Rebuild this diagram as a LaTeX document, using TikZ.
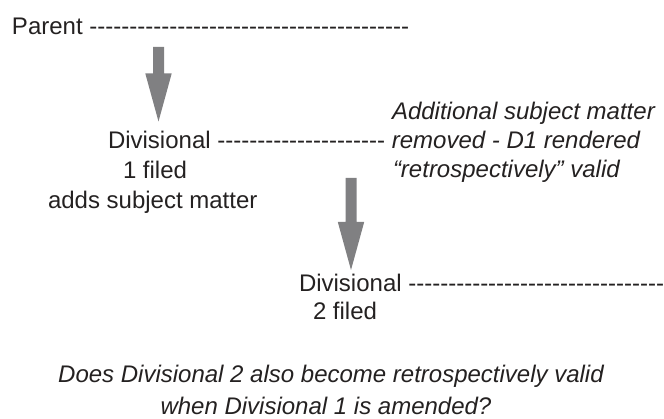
\documentclass[tikz,border=0pt]{standalone}
\usepackage{fontspec}
\setmainfont{Liberation Sans}[Ligatures=TeXOff]
\usetikzlibrary{calc}
\definecolor{ink}{rgb}{0.14,0.13,0.13}
\definecolor{arrowgray}{rgb}{0.50,0.50,0.51}
\tikzset{
  txt/.style={anchor=base west, inner sep=0pt, outer sep=0pt, text=ink, font=\fontsize{24}{29}\selectfont},
  itxt/.style={txt, font=\fontsize{24}{29}\selectfont\itshape},
  ctxt/.style={txt, anchor=base, font=\fontsize{24}{29}\selectfont\itshape},
  blockarrow/.style={fill=arrowgray, draw=none}
}
\newcommand{\blockarr}[2]{%
  \fill[blockarrow] ($(#1)+(-5.5,0)$) -- ($(#1)+(5.5,0)$) --
    ($(#2)+(5.5,-48)$) -- ($(#2)+(13.2,-48)$) -- (#2) --
    ($(#2)+(-13.2,-48)$) -- ($(#2)+(-5.5,-48)$) -- cycle;}
\begin{document}
\begin{tikzpicture}[x=1pt,y=-1pt]
\useasboundingbox (0,0) rectangle (664,419);
% parent
\node[txt] (parent) at (12,35) {Parent ----------------------------------------};
% divisional 1
\node[txt] (div1) at (108,149) {Divisional --------------------- \textit{removed - D1 rendered}};
\node[txt] (div1b) at (123,179) {1 filed};
\node[txt] (div1c) at (48,209) {adds subject matter};
\node[itxt] (rem1) at (392,120) {Additional subject matter};
\node[itxt] (rem3) at (393,178) {“retrospectively” valid};
% divisional 2
\node[txt] (div2) at (299,292) {Divisional --------------------------------};
\node[txt] (div2b) at (313,320) {2 filed};
% question
\node[ctxt] (q1) at (331,383) {Does Divisional 2 also become retrospectively valid};
\node[ctxt] (q2) at (326,414) {when Divisional 1 is amended?};
% arrows
\coordinate (a1s) at (158.5,47);
\coordinate (a1t) at (158.5,121.5);
\coordinate (a2s) at (351,178);
\coordinate (a2t) at (351,270);
\blockarr{a1s}{a1t}
\blockarr{a2s}{a2t}
\end{tikzpicture}
\end{document}
